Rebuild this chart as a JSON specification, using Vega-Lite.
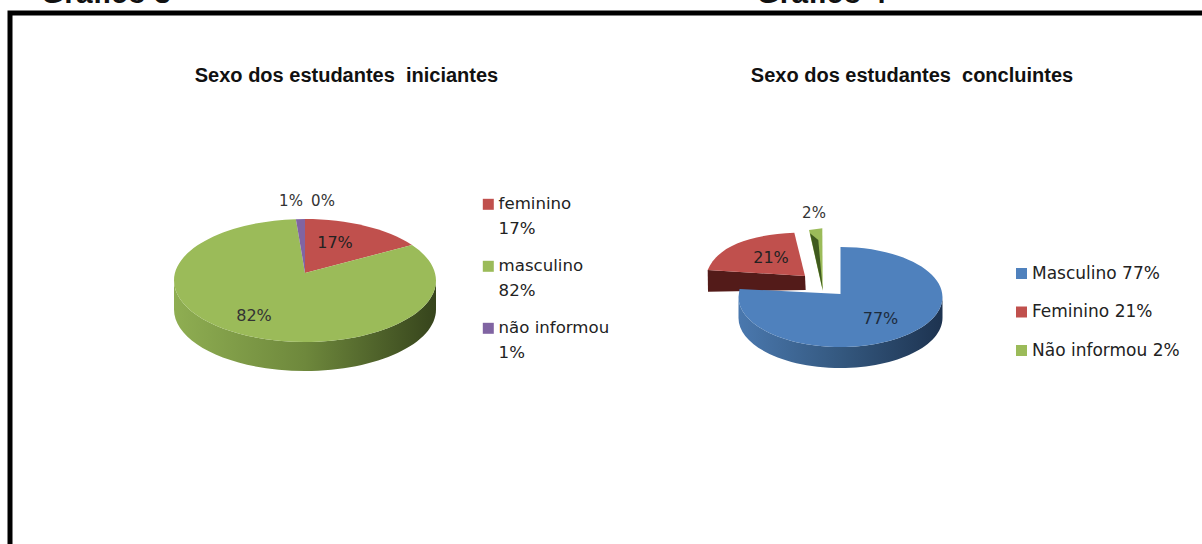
{
  "$schema": "https://vega.github.io/schema/vega-lite/v6.json",
  "autosize": {"type": "none"},
  "padding": {"left": 10, "top": 13, "right": 0, "bottom": 0},
  "width": 1200,
  "height": 560,
  "background": "#ffffff",
  "view": {"stroke": "#000000", "strokeWidth": 5, "fill": "#ffffff"},
  "config": {
    "legend": {"padding": 0, "labelFont": "DejaVu Sans", "labelFontSize": 16.6, "labelColor": "#222222", "symbolType": "square", "symbolSize": 121, "symbolStrokeWidth": 0, "title": null, "labelOffset": 2}
  },
  "datasets": {
    "slices": [
      {"chart": "iniciantes", "slice": "feminino", "wedge": "F", "value": 0.17},
      {"chart": "iniciantes", "slice": "masculino", "wedge": "M", "value": 0.82},
      {"chart": "iniciantes", "slice": "não informou", "wedge": "N", "value": 0.01},
      {"chart": "iniciantes", "slice": "outro", "wedge": "O", "value": 0},
      {"chart": "concluintes", "slice": "Masculino", "wedge": "M", "value": 0.77},
      {"chart": "concluintes", "slice": "Feminino", "wedge": "F", "value": 0.21},
      {"chart": "concluintes", "slice": "Não informou", "wedge": "N", "value": 0.02}
    ],
    "titles": [
      {"chart": "iniciantes", "title": "Sexo dos estudantes\u00a0 iniciantes", "figure": "Gráfico 3"},
      {"chart": "concluintes", "title": "Sexo dos estudantes\u00a0 concluintes", "figure": "Gráfico 4"}
    ]
  },
  "encoding": {
    "x": {"field": "chart", "type": "nominal", "axis": null, "scale": {"type": "point", "padding": 0, "domain": ["iniciantes", "concluintes"], "range": [295, 830.5]}},
    "y": {"field": "chart", "type": "nominal", "axis": null, "scale": {"type": "point", "padding": 0, "domain": ["iniciantes", "concluintes"], "range": [267.5, 284]}}
  },
  "layer": [
    {
      "data": {"name": "slices"},
      "transform": [{"filter": "datum.chart === 'iniciantes'"}],
      "layer": [
        {
          "transform": [{"filter": "datum.slice === 'masculino'"}],
          "mark": {"type": "point", "filled": true, "opacity": 1, "size": 4, "shape": "M131 0C131 33.97 72.35 61.5 0 61.5C-72.35 61.5 -131 33.97 -131 0L-131 29C-131 62.97 -72.35 90.5 0 90.5C72.35 90.5 131 62.97 131 29Z", "fill": {"gradient": "linear", "x1": 0, "x2": 1, "y1": 0, "y2": 0, "stops": [{"offset": 0, "color": "#8fae52"}, {"offset": 0.5, "color": "#6e883c"}, {"offset": 1, "color": "#36441c"}]}}
        },
        {
          "transform": [{"filter": "datum.slice !== 'outro'"}],
          "mark": {"type": "point", "filled": true, "opacity": 1, "size": 4},
          "encoding": {
            "color": {"field": "slice", "type": "nominal", "scale": {"domain": ["feminino", "masculino", "não informou"], "range": ["#c0504d", "#9bbb59", "#8064a2"]},
              "legend": {"orient": "none", "legendX": 470, "legendY": 183, "rowPadding": 20, "symbolType": "square", "labelExpr": "[datum.label, {'feminino': '17%', 'masculino': '82%', 'não informou': '1%'}[datum.label]]", "encoding": {"labels": {"lineHeight": {"value": 25}}}}},
            "shape": {"field": "wedge", "type": "nominal", "legend": null, "scale": {"domain": ["F", "M", "N"], "range": ["M0 -7.5L0 -61.5C42.6 -61.5 82.4 -51.8 107 -35.5Z", "M0 -7.5L107 -35.5C122.6 -25.1 131 -12.7 131 0C131 33.97 72.35 61.5 0 61.5C-72.35 61.5 -131 33.97 -131 0C-131 -32.3 -77.7 -59.1 -9.1 -61.35Z", "M0 -7.5L-9.1 -61.35L0 -61.5Z"]}}
          }
        },
        {"transform": [{"filter": "datum.slice === 'feminino'"}], "mark": {"type": "text", "font": "DejaVu Sans", "fontSize": 16, "color": "#222222", "dx": 30, "dy": -37.5}, "encoding": {"text": {"field": "value", "format": ".0%"}}},
        {"transform": [{"filter": "datum.slice === 'masculino'"}], "mark": {"type": "text", "font": "DejaVu Sans", "fontSize": 16, "color": "#333333", "dx": -51, "dy": 35.5}, "encoding": {"text": {"field": "value", "format": ".0%"}}},
        {"transform": [{"filter": "datum.slice === 'não informou'"}], "mark": {"type": "text", "font": "DejaVu Sans", "fontSize": 15, "color": "#333333", "dx": -14, "dy": -79.5}, "encoding": {"text": {"field": "value", "format": ".0%"}}},
        {"transform": [{"filter": "datum.slice === 'outro'"}], "mark": {"type": "text", "font": "DejaVu Sans", "fontSize": 15, "color": "#333333", "dx": 18, "dy": -79.5}, "encoding": {"text": {"field": "value", "format": ".0%"}}}
      ]
    },
    {
      "data": {"name": "slices"},
      "transform": [{"filter": "datum.chart === 'concluintes'"}],
      "layer": [
        {
          "transform": [{"filter": "datum.slice === 'Masculino'"}],
          "mark": {"type": "point", "filled": true, "opacity": 1, "size": 4, "shape": "M102 0C102 27.6 56.33 50 0 50C-56.33 50 -102 27.6 -102 0L-102 21C-102 48.6 -56.33 71 0 71C56.33 71 102 48.6 102 21Z", "fill": {"gradient": "linear", "x1": 0, "x2": 1, "y1": 0, "y2": 0, "stops": [{"offset": 0, "color": "#4a78ae"}, {"offset": 0.5, "color": "#34587f"}, {"offset": 1, "color": "#1d3350"}]}}
        },
        {
          "transform": [{"filter": "datum.slice === 'Feminino'"}],
          "mark": {"type": "point", "filled": true, "opacity": 1, "size": 4, "shape": "M-132.8 -27L-35.5 -21L-34.8 -7L-132.5 -5.3Z", "fill": "#531b19"}
        },
        {
          "mark": {"type": "point", "filled": true, "opacity": 1, "size": 4},
          "encoding": {
            "color": {"field": "slice", "type": "nominal", "scale": {"domain": ["Masculino", "Feminino", "Não informou"], "range": ["#4f81bd", "#c0504d", "#9bbb59"]},
              "legend": {"orient": "none", "legendX": 1003, "legendY": 252, "rowPadding": 20.5, "labelFontSize": 17, "symbolType": "square", "labelExpr": "datum.label + ' ' + {'Masculino': '77%', 'Feminino': '21%', 'Não informou': '2%'}[datum.label]"}},
            "shape": {"field": "wedge", "type": "nominal", "legend": null, "scale": {"domain": ["M", "F", "N"], "range": ["M0 -3L0 -50C56.33 -50 102 -27.6 102 0C102 27.6 56.33 50 0 50C-56.33 50 -102 27.6 -102 0L-101 -8Z", "M-35.5 -21L-46.2 -64.3C-90 -62 -122 -52 -132.8 -27Z", "M-31.5 -67L-18.2 -68.7L-17.8 -6.3Z"]}}
          }
        },
        {
          "transform": [{"filter": "datum.slice === 'Não informou'"}],
          "mark": {"type": "point", "filled": true, "opacity": 1, "size": 4, "shape": "M-30.5 -63.7L-22.2 -57L-17.8 -7Z", "fill": "#3f5a1e"}
        },
        {"transform": [{"filter": "datum.slice === 'Masculino'"}], "mark": {"type": "text", "font": "DejaVu Sans", "fontSize": 16, "color": "#1d2b3c", "dx": 40, "dy": 22}, "encoding": {"text": {"field": "value", "format": ".0%"}}},
        {"transform": [{"filter": "datum.slice === 'Feminino'"}], "mark": {"type": "text", "font": "DejaVu Sans", "fontSize": 16, "color": "#222222", "dx": -69.5, "dy": -39}, "encoding": {"text": {"field": "value", "format": ".0%"}}},
        {"transform": [{"filter": "datum.slice === 'Não informou'"}], "mark": {"type": "text", "font": "DejaVu Sans", "fontSize": 15, "color": "#333333", "dx": -26.5, "dy": -84}, "encoding": {"text": {"field": "value", "format": ".0%"}}}
      ]
    },
    {
      "data": {"name": "titles"},
      "transform": [{"filter": "datum.chart === 'iniciantes'"}],
      "layer": [
        {"mark": {"type": "text", "font": "Liberation Sans", "fontWeight": "bold", "fontSize": 20, "color": "#111111", "dx": 41.5, "dy": -204.5}, "encoding": {"text": {"field": "title"}}},
        {"mark": {"type": "text", "font": "Liberation Sans", "fontWeight": "bold", "fontSize": 30, "color": "#111111", "baseline": "alphabetic", "dx": -199, "dy": -277.5}, "encoding": {"text": {"field": "figure"}}}
      ]
    },
    {
      "data": {"name": "titles"},
      "transform": [{"filter": "datum.chart === 'concluintes'"}],
      "layer": [
        {"mark": {"type": "text", "font": "Liberation Sans", "fontWeight": "bold", "fontSize": 20, "color": "#111111", "dx": 71.5, "dy": -221}, "encoding": {"text": {"field": "title"}}},
        {"mark": {"type": "text", "font": "Liberation Sans", "fontWeight": "bold", "fontSize": 30, "color": "#111111", "baseline": "alphabetic", "dx": -19, "dy": -294}, "encoding": {"text": {"field": "figure"}}}
      ]
    }
  ],
  "resolve": {"scale": {"color": "independent", "shape": "independent"}}
}
